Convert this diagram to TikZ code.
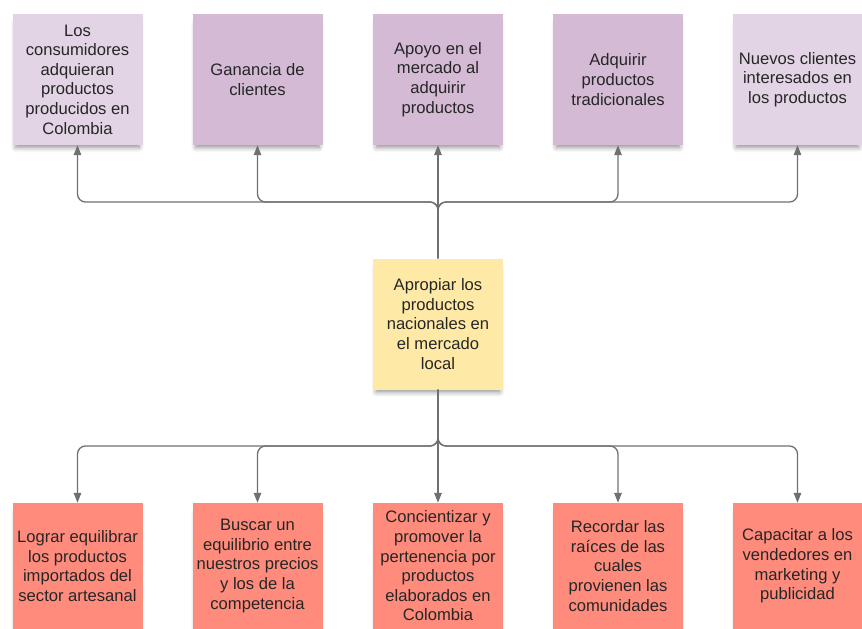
\documentclass[tikz,border=0pt]{standalone}
\usepackage{fontspec}
\setmainfont{Liberation Sans}
\usetikzlibrary{arrows.meta,shadows.blur}
\definecolor{lilaclaro}{HTML}{E2D4E4}
\definecolor{lila}{HTML}{D4BAD4}
\definecolor{amarillo}{HTML}{FFE9A6}
\definecolor{salmon}{HTML}{FF8B7C}
\definecolor{linea}{HTML}{707070}

\begin{document}
\begin{tikzpicture}[x=1pt,y=-1pt,>={Triangle[length=10pt,width=7.5pt]},
	                    every node/.style={font=\fontsize{16.6}{19.6}\selectfont,text=black!85},
	                    caja/.style={rectangle,minimum width=130pt,minimum height=131pt,align=center,inner sep=2pt,
	                      blur shadow={shadow xshift=0pt,shadow yshift=-6pt,shadow scale=0.95,shadow blur steps=6,shadow blur radius=5pt,shadow opacity=45}},
	                    efecto/.style={caja,fill=lila},
	                    efecto claro/.style={caja,fill=lilaclaro},
	                    problema/.style={caja,fill=amarillo},
	                    causa/.style={caja,minimum height=126pt,fill=salmon},
	                    flecha/.style={->,draw=linea,line width=1.3pt,rounded corners=8pt}]
		\useasboundingbox (0,0) rectangle (862,629);
		% Nodes
		  % Efectos
		  \node (e1) at (77.5, 79.5) [efecto claro] {Los\\consumidores\\adquieran\\productos\\producidos en\\Colombia};
		  \node (e2) at (257.5, 79.5) [efecto] {Ganancia de\\clientes};
		  \node (e3) at (438, 79.5) [efecto] {Apoyo en el\\mercado al\\adquirir\\productos};
		  \node (e4) at (618, 79.5) [efecto] {Adquirir\\productos\\tradicionales};
		  \node (e5) at (797.5, 79.5) [efecto claro, minimum width=129pt] {Nuevos clientes\\interesados en\\los productos};
		  
		  % Problema
		  \node (centro) at (438, 324) [problema] {Apropiar los\\productos\\nacionales en\\el mercado\\local};
		  
		  % Causas
		  \node (c1) at (77.5, 566) [causa] {Lograr equilibrar\\los productos\\importados del\\sector artesanal};
		  \node (c2) at (257.5, 566) [causa] {Buscar un\\equilibrio entre\\nuestros precios\\y los de la\\competencia};
		  \node (c3) at (438, 566) [causa] {Concientizar y\\promover la\\pertenencia por\\productos\\elaborados en\\Colombia};
		  \node (c4) at (618, 566) [causa] {Recordar las\\raíces de las\\cuales\\provienen las\\comunidades};
		  \node (c5) at (797.5, 566) [causa, minimum width=129pt] {Capacitar a los\\vendedores en\\marketing y\\publicidad};
		  
		  \coordinate (arriba) at (438, 202);
		  \coordinate (abajo) at (438, 446);
		
		% Edges
		  \draw[flecha] (centro.north) -- (arriba) -| (e1.south);
		  \draw[flecha] (centro.north) -- (arriba) -| (e2.south);
		  \draw[flecha] (centro.north) -- (e3.south);
		  \draw[flecha] (centro.north) -- (arriba) -| (e4.south);
		  \draw[flecha] (centro.north) -- (arriba) -| (e5.south);
		  
		  \draw[flecha] (centro.south) -- (abajo) -| (c1.north);
		  \draw[flecha] (centro.south) -- (abajo) -| (c2.north);
		  \draw[flecha] (centro.south) -- (c3.north);
		  \draw[flecha] (centro.south) -- (abajo) -| (c4.north);
		  \draw[flecha] (centro.south) -- (abajo) -| (c5.north);
		  
		\end{tikzpicture}
\end{document}
